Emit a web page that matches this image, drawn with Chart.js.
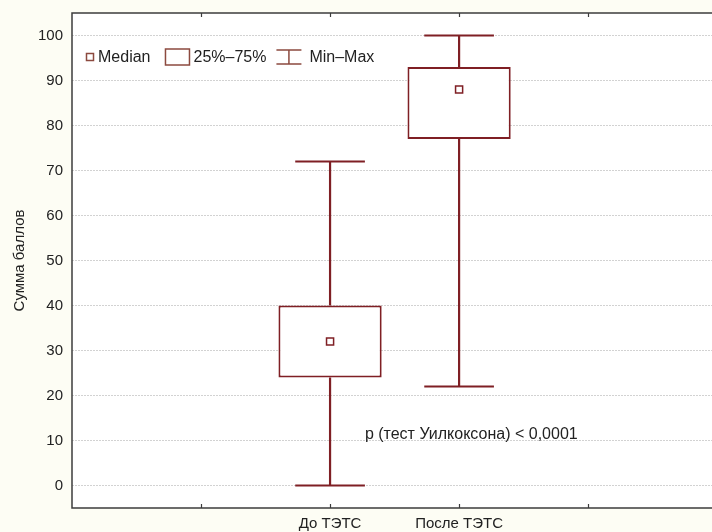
<!DOCTYPE html>
<html>
<head>
<meta charset="utf-8">
<script src="https://cdn.jsdelivr.net/npm/chart.js@4/dist/chart.umd.min.js"></script>
<style>
  html, body { margin: 0; padding: 0; background: #fdfdf4; }
  canvas { display: block; }
</style>
</head>
<body>
<canvas id="c" width="712" height="532"></canvas>
<script>
// ---- data ----
const categories = ['До ТЭТС', 'После ТЭТС'];
const minValues = [0, 22];
const q1Values = [24, 77];
const medianValues = [32, 88];
const q3Values = [40, 93];
const maxValues = [72, 100];
const yTickValues = [0, 10, 20, 30, 40, 50, 60, 70, 80, 90, 100];
const xTickValues = [1, 2, 3, 4];
const legendLabels = ['Median', '25%\u201375%', 'Min\u2013Max'];
const yTitle = 'Сумма баллов';
const noteText = 'p (тест Уилкоксона) < 0,0001';

// ---- styling / geometry constants ----
const MAROON = '#7f1f24';
const LEGEND_COL = '#8c4a3f';
const FONT = "'Liberation Sans', Arial, sans-serif";
const catPos = categories.map((_, i) => i + 2);
const CAP_HALF = 0.27;

const boxData = categories.map((_, i) => ({ x: catPos[i], y: [q1Values[i], q3Values[i]] }));
const whiskerData = [];
categories.forEach((_, i) => {
  const p = catPos[i];
  whiskerData.push({ x: p, y: q3Values[i] }, { x: p, y: maxValues[i] }, { x: p, y: null });
  whiskerData.push({ x: p - CAP_HALF, y: maxValues[i] }, { x: p + CAP_HALF, y: maxValues[i] }, { x: p, y: null });
  whiskerData.push({ x: p, y: q1Values[i] }, { x: p, y: minValues[i] }, { x: p, y: null });
  whiskerData.push({ x: p - CAP_HALF, y: minValues[i] }, { x: p + CAP_HALF, y: minValues[i] }, { x: p, y: null });
});
const medianData = categories.map((_, i) => ({ x: catPos[i], y: medianValues[i] }));

const decorPlugin = {
  id: 'decor',
  beforeDraw(chart) {
    const { ctx, chartArea: a } = chart;
    ctx.save();
    ctx.fillStyle = '#fdfdf4';
    ctx.fillRect(0, 0, chart.width, chart.height);
    ctx.fillStyle = '#ffffff';
    ctx.fillRect(a.left, a.top, a.right - a.left, a.bottom - a.top);
    ctx.restore();
  },
  afterDraw(chart) {
    const { ctx, chartArea: a, scales } = chart;
    ctx.save();
    // frame
    ctx.strokeStyle = '#3c3c3c';
    ctx.lineWidth = 1.5;
    ctx.beginPath();
    ctx.moveTo(a.right, a.top);
    ctx.lineTo(a.left, a.top);
    ctx.lineTo(a.left, a.bottom);
    ctx.lineTo(a.right, a.bottom);
    ctx.stroke();
    // inward tick marks top & bottom
    ctx.lineWidth = 1.2;
    ctx.beginPath();
    xTickValues.forEach(v => {
      const px = Math.round(scales.x.getPixelForValue(v)) + 0.5;
      ctx.moveTo(px, a.bottom); ctx.lineTo(px, a.bottom - 4);
      ctx.moveTo(px, a.top); ctx.lineTo(px, a.top + 4);
    });
    ctx.stroke();

    // legend
    ctx.font = '16px ' + FONT;
    ctx.fillStyle = '#222';
    ctx.textBaseline = 'middle';
    const ly = a.top + 44;
    let lx = a.left + 14;
    ctx.strokeStyle = LEGEND_COL;
    ctx.lineWidth = 1.5;
    // median marker
    ctx.strokeRect(lx + 0.5, ly - 3.5, 7, 7);
    lx += 12;
    ctx.fillText(legendLabels[0], lx, ly + 1);
    lx += ctx.measureText(legendLabels[0]).width + 15;
    // box marker
    ctx.strokeRect(lx, ly - 8, 24, 16);
    lx += 28;
    ctx.fillText(legendLabels[1], lx, ly + 1);
    lx += ctx.measureText(legendLabels[1]).width + 10;
    // whisker marker
    ctx.beginPath();
    ctx.moveTo(lx, ly - 7); ctx.lineTo(lx + 25, ly - 7);
    ctx.moveTo(lx, ly + 7); ctx.lineTo(lx + 25, ly + 7);
    ctx.moveTo(lx + 12.5, ly - 7); ctx.lineTo(lx + 12.5, ly + 7);
    ctx.stroke();
    lx += 33;
    ctx.fillText(legendLabels[2], lx, ly + 1);

    // note
    ctx.textAlign = 'left';
    ctx.fillText(noteText, scales.x.getPixelForValue(2.27), scales.y.getPixelForValue(11.3));
    ctx.restore();
  }
};

new Chart(document.getElementById('c'), {
  type: 'bar',
  data: {
    datasets: [
      {
        type: 'bar',
        data: boxData,
        backgroundColor: '#ffffff',
        borderColor: MAROON,
        borderWidth: 2,
        borderSkipped: false,
        categoryPercentage: 1,
        barPercentage: 0.8,
        order: 2
      },
      {
        type: 'line',
        data: whiskerData,
        borderColor: MAROON,
        borderWidth: 2.2,
        pointRadius: 0,
        spanGaps: false,
        tension: 0,
        fill: false,
        order: 1
      },
      {
        type: 'line',
        data: medianData,
        showLine: false,
        pointStyle: 'rect',
        pointRadius: 5,
        pointBorderWidth: 1.5,
        pointBorderColor: MAROON,
        pointBackgroundColor: '#ffffff',
        order: 0
      }
    ]
  },
  options: {
    responsive: false,
    devicePixelRatio: 1,
    animation: false,
    events: [],
    layout: { autoPadding: false, padding: { top: 13, left: 0, right: 0, bottom: 0 } },
    plugins: { legend: { display: false }, tooltip: { enabled: false } },
    scales: {
      x: {
        type: 'linear',
        offset: false,
        min: 0,
        max: 4.96,
        grid: { display: false, drawTicks: false, offset: false },
        border: { display: false },
        afterBuildTicks: s => { s.ticks = xTickValues.map(v => ({ value: v })); },
        afterFit: s => { s.height = 24; s.paddingLeft = 0; s.paddingRight = 0; },
        ticks: {
          autoSkip: false,
          maxRotation: 0,
          padding: 7,
          color: '#222',
          font: { family: FONT, size: 15 },
          callback: v => { const i = catPos.indexOf(v); return i >= 0 ? categories[i] : ''; }
        }
      },
      y: {
        type: 'linear',
        min: -5,
        max: 105,
        afterBuildTicks: s => { s.ticks = yTickValues.map(v => ({ value: v })); },
        afterFit: s => { s.width = 72; s.paddingTop = 0; s.paddingBottom = 0; },
        grid: { color: '#d2d2d2', lineWidth: 1, drawTicks: false },
        border: { display: false, dash: [2, 1] },
        ticks: {
          padding: 9,
          color: '#222',
          font: { family: FONT, size: 15 }
        },
        title: {
          display: true,
          text: yTitle,
          color: '#222',
          font: { family: FONT, size: 15 },
          padding: { top: 11, bottom: 0 }
        }
      }
    }
  },
  plugins: [decorPlugin]
});
</script>
</body>
</html>
